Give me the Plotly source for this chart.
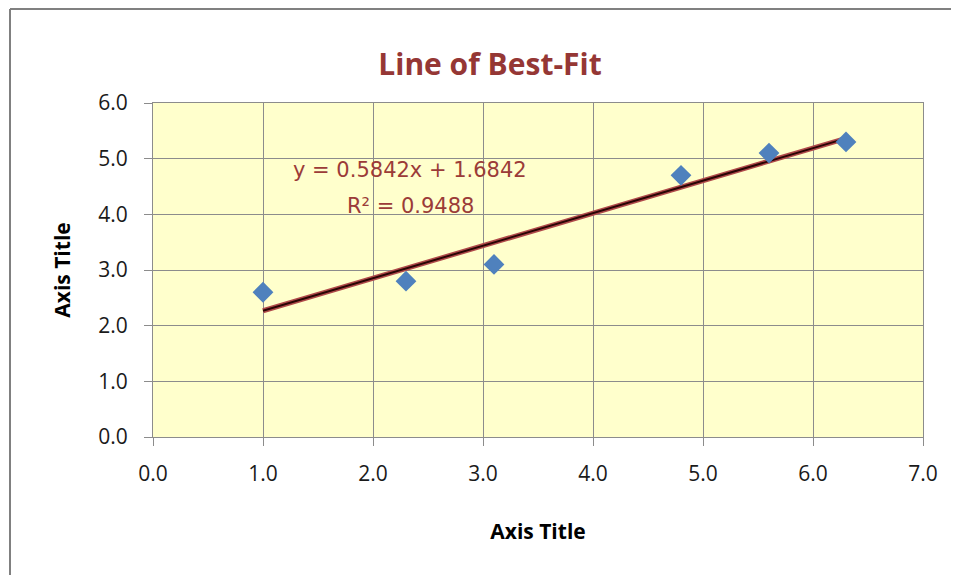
import plotly.graph_objects as go

x_vals = [1.0, 2.3, 3.1, 4.8, 5.6, 6.3]
y_vals = [2.6, 2.8, 3.1, 4.7, 5.1, 5.3]
slope = 0.5842
intercept = 1.6842
r_squared = 0.9488
title_text = "Line of Best-Fit"
x_title = "Axis Title"
y_title = "Axis Title"
tick_vals_x = [0, 1, 2, 3, 4, 5, 6, 7]
tick_vals_y = [0, 1, 2, 3, 4, 5, 6]

fit_x = [min(x_vals), max(x_vals)]
fit_y = [slope * v + intercept for v in fit_x]

OFF = 8  # page body margin
W, H = 959 - OFF, 575 - OFF
L = 153 - OFF
T = 103 - OFF
R = W - (923 - OFF)
B = H - (437 - OFF)
pw, ph = W - L - R, H - T - B

def px2x(p):
    return (p - OFF - L) / pw

def px2y(p):
    return (H - B - (p - OFF)) / ph

fig = go.Figure()
fig.add_trace(go.Scatter(x=fit_x, y=fit_y, mode="lines",
                         line=dict(color="#b04a4a", width=5), hoverinfo="skip", showlegend=False))
fig.add_trace(go.Scatter(x=fit_x, y=fit_y, mode="lines",
                         line=dict(color="#2a0505", width=2), hoverinfo="skip", showlegend=False))
fig.add_trace(go.Scatter(x=x_vals, y=y_vals, mode="markers",
                         marker=dict(symbol="diamond", size=16, color="#4F81BD"), showlegend=False))

axis_common = dict(showgrid=True, gridcolor="#8c8c8c", gridwidth=1,
                   showline=True, linecolor="#8c8c8c", linewidth=1,
                   ticks="outside", ticklen=8, tickcolor="#8c8c8c",
                   tickformat=".1f", zeroline=False,
                   tickfont=dict(family="Open Sans", size=21, color="#1a1a1a"))

fig.update_layout(
    width=W, height=H,
    margin=dict(l=L, r=R, t=T, b=B),
    paper_bgcolor="white",
    plot_bgcolor="#FFFFCC",
    title=dict(text="<b>" + title_text + "</b>", x=(490 - OFF) / W, xanchor="center",
               y=1 - (64 - OFF) / H, yanchor="middle",
               font=dict(family="Open Sans", size=30, color="#953735")),
    xaxis=dict(range=[0, 7], tickvals=tick_vals_x, mirror=True, ticklabelstandoff=10,
               title=dict(text="<b>" + x_title + "</b>", standoff=38,
                          font=dict(family="Open Sans", size=21, color="#000000")),
               **axis_common),
    yaxis=dict(range=[0, 6], tickvals=tick_vals_y, mirror=True, ticklabelstandoff=12,
               title=dict(text="<b>" + y_title + "</b>", standoff=21,
                          font=dict(family="Open Sans", size=21, color="#000000")),
               **axis_common),
    annotations=[
        dict(x=px2x(410), y=px2y(170), xref="paper", yref="paper", showarrow=False,
             xanchor="center", yanchor="middle",
             text=f"y = {slope}x + {intercept}",
             font=dict(family="DejaVu Sans", size=21, color="#9b3b38")),
        dict(x=px2x(410), y=px2y(206), xref="paper", yref="paper", showarrow=False,
             xanchor="center", yanchor="middle",
             text=f"R² = {r_squared}",
             font=dict(family="DejaVu Sans", size=21, color="#9b3b38")),
    ],
    shapes=[
        dict(type="line", xref="paper", yref="paper", x0=px2x(10), x1=px2x(10), y0=px2y(9), y1=px2y(600),
             line=dict(color="#808080", width=2)),
        dict(type="line", xref="paper", yref="paper", x0=px2x(10), x1=px2x(980), y0=px2y(9), y1=px2y(9),
             line=dict(color="#808080", width=2)),
    ],
)

fig.write_html("out.html")
